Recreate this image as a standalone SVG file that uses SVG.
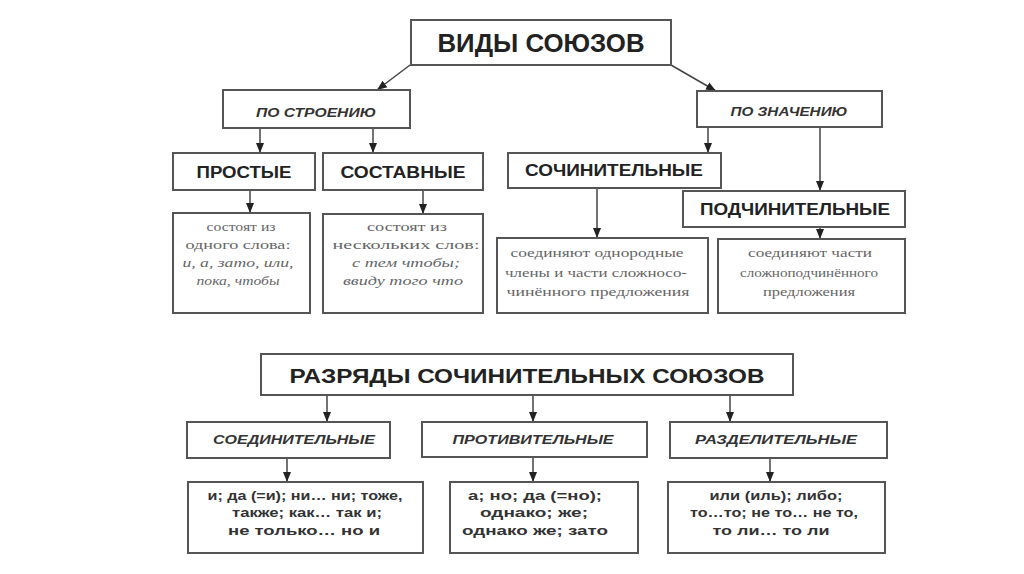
<svg xmlns="http://www.w3.org/2000/svg" width="1024" height="574" viewBox="0 0 1024 574">
<defs>
<marker id="ah" markerUnits="userSpaceOnUse" markerWidth="10" markerHeight="10" viewBox="0 0 10 10" refX="10" refY="5" orient="auto">
<path d="M0,1 L10,5 L0,9 Z" fill="#222"/>
</marker>
<style>
.box{fill:#fff;stroke:#555;stroke-width:2}
.h{font-family:"Liberation Sans",Arial,sans-serif;font-weight:bold;fill:#222;text-anchor:middle}
.hi{font-family:"Liberation Sans",Arial,sans-serif;font-weight:bold;font-style:italic;fill:#333;text-anchor:middle;font-size:12px}
.d{font-family:"Liberation Serif","Times New Roman",serif;fill:#666;text-anchor:middle;font-size:12.5px}
.di{font-style:italic}
.l{font-family:"Liberation Sans",Arial,sans-serif;font-weight:bold;fill:#333;text-anchor:middle;font-size:13px}
.c{fill:none;stroke:#444;stroke-width:1.5;marker-end:url(#ah)}
</style>
</defs>
<rect width="1024" height="574" fill="#fff"/>
<g id="connectors">
<line class="c" x1="410" y1="65" x2="377" y2="90"/>
<line class="c" x1="671" y1="65" x2="716" y2="91"/>
<line class="c" x1="260" y1="128" x2="260" y2="153"/>
<line class="c" x1="373" y1="128" x2="373" y2="153"/>
<line class="c" x1="708" y1="127" x2="708" y2="153"/>
<line class="c" x1="820" y1="127" x2="820" y2="191"/>
<line class="c" x1="250" y1="190" x2="250" y2="213"/>
<line class="c" x1="423" y1="190" x2="423" y2="214"/>
<line class="c" x1="597" y1="188" x2="597" y2="238"/>
<line class="c" x1="820" y1="227" x2="820" y2="239"/>
<line class="c" x1="327" y1="395" x2="327" y2="422"/>
<line class="c" x1="533" y1="395" x2="533" y2="422"/>
<line class="c" x1="730" y1="395" x2="730" y2="422"/>
<line class="c" x1="287" y1="458" x2="287" y2="482"/>
<line class="c" x1="533" y1="457" x2="533" y2="482"/>
<line class="c" x1="770" y1="458" x2="770" y2="482"/>
</g>
<g id="vidy">
<rect class="box" x="411" y="20" width="260" height="45"/>
<text class="h" x="541" y="52" font-size="25" textLength="207" lengthAdjust="spacingAndGlyphs">ВИДЫ СОЮЗОВ</text>
</g>
<g id="po-stroeniyu">
<rect class="box" x="223" y="90" width="187" height="38"/>
<text class="hi" x="316" y="117" font-size="11" textLength="120" lengthAdjust="spacingAndGlyphs">ПО СТРОЕНИЮ</text>
</g>
<g id="po-znacheniyu">
<rect class="box" x="697" y="91" width="185" height="36"/>
<text class="hi" x="789" y="116" font-size="11" textLength="117" lengthAdjust="spacingAndGlyphs">ПО ЗНАЧЕНИЮ</text>
</g>
<g id="prostye">
<rect class="box" x="173" y="153" width="142" height="37"/>
<text class="h" x="244" y="178" font-size="16" textLength="95" lengthAdjust="spacingAndGlyphs">ПРОСТЫЕ</text>
</g>
<g id="sostavnye">
<rect class="box" x="323" y="153" width="160" height="37"/>
<text class="h" x="403" y="178" font-size="16" textLength="125" lengthAdjust="spacingAndGlyphs">СОСТАВНЫЕ</text>
</g>
<g id="sochinitelnye">
<rect class="box" x="508" y="153" width="213" height="35"/>
<text class="h" x="614" y="176" font-size="16" textLength="178" lengthAdjust="spacingAndGlyphs">СОЧИНИТЕЛЬНЫЕ</text>
</g>
<g id="podchinitelnye">
<rect class="box" x="683" y="191" width="222" height="36"/>
<text class="h" x="795" y="215" font-size="16" textLength="190" lengthAdjust="spacingAndGlyphs">ПОДЧИНИТЕЛЬНЫЕ</text>
</g>
<g id="desc-prostye">
<rect class="box" x="173" y="213" width="137" height="100"/>
<text class="d" x="241" y="231" textLength="69" lengthAdjust="spacingAndGlyphs">состоят из</text>
<text class="d" x="238" y="249" textLength="105" lengthAdjust="spacingAndGlyphs">одного слова:</text>
<text class="d di" x="238" y="267" textLength="111" lengthAdjust="spacingAndGlyphs">и, а, зато, или,</text>
<text class="d di" x="238" y="285" textLength="83" lengthAdjust="spacingAndGlyphs">пока, чтобы</text>
</g>
<g id="desc-sostavnye">
<rect class="box" x="323" y="214" width="160" height="99"/>
<text class="d" x="407" y="231" textLength="80" lengthAdjust="spacingAndGlyphs">состоят из</text>
<text class="d" x="406" y="249" textLength="147" lengthAdjust="spacingAndGlyphs">нескольких слов:</text>
<text class="d di" x="406" y="267" textLength="108" lengthAdjust="spacingAndGlyphs">с тем чтобы;</text>
<text class="d di" x="403" y="285" textLength="120" lengthAdjust="spacingAndGlyphs">ввиду того что</text>
</g>
<g id="desc-sochin">
<rect class="box" x="497" y="238" width="211" height="75"/>
<text class="d" x="597" y="257" textLength="173" lengthAdjust="spacingAndGlyphs">соединяют однородные</text>
<text class="d" x="596" y="277" textLength="182" lengthAdjust="spacingAndGlyphs">члены и части сложносо-</text>
<text class="d" x="598" y="296" textLength="183" lengthAdjust="spacingAndGlyphs">чинённого предложения</text>
</g>
<g id="desc-podchin">
<rect class="box" x="718" y="239" width="187" height="74"/>
<text class="d" x="810" y="257" textLength="124" lengthAdjust="spacingAndGlyphs">соединяют части</text>
<text class="d" x="809" y="277" textLength="138" lengthAdjust="spacingAndGlyphs">сложноподчинённого</text>
<text class="d" x="809" y="296" textLength="92" lengthAdjust="spacingAndGlyphs">предложения</text>
</g>
<g id="razryady">
<rect class="box" x="261" y="354" width="532" height="41"/>
<text class="h" x="527" y="383" font-size="21" textLength="475" lengthAdjust="spacingAndGlyphs">РАЗРЯДЫ СОЧИНИТЕЛЬНЫХ СОЮЗОВ</text>
</g>
<g id="soedinitelnye">
<rect class="box" x="187" y="422" width="203" height="36"/>
<text class="hi" x="294" y="444" textLength="162" lengthAdjust="spacingAndGlyphs">СОЕДИНИТЕЛЬНЫЕ</text>
</g>
<g id="protivitelnye">
<rect class="box" x="422" y="422" width="225" height="35"/>
<text class="hi" x="533" y="444" textLength="161" lengthAdjust="spacingAndGlyphs">ПРОТИВИТЕЛЬНЫЕ</text>
</g>
<g id="razdelitelnye">
<rect class="box" x="670" y="422" width="217" height="36"/>
<text class="hi" x="776" y="444" textLength="162" lengthAdjust="spacingAndGlyphs">РАЗДЕЛИТЕЛЬНЫЕ</text>
</g>
<g id="list-soed">
<rect class="box" x="188" y="482" width="235" height="71"/>
<text class="l" x="305" y="500" textLength="195" lengthAdjust="spacingAndGlyphs">и; да (=и); ни… ни; тоже,</text>
<text class="l" x="307" y="517" textLength="150" lengthAdjust="spacingAndGlyphs">также; как… так и;</text>
<text class="l" x="304" y="535" textLength="152" lengthAdjust="spacingAndGlyphs">не только… но и</text>
</g>
<g id="list-prot">
<rect class="box" x="450" y="482" width="188" height="71"/>
<text class="l" x="535" y="500" textLength="134" lengthAdjust="spacingAndGlyphs">а; но; да (=но);</text>
<text class="l" x="534" y="517" textLength="108" lengthAdjust="spacingAndGlyphs">однако; же;</text>
<text class="l" x="535" y="535" textLength="146" lengthAdjust="spacingAndGlyphs">однако же; зато</text>
</g>
<g id="list-razd">
<rect class="box" x="668" y="482" width="217" height="71"/>
<text class="l" x="776" y="500" textLength="133" lengthAdjust="spacingAndGlyphs">или (иль); либо;</text>
<text class="l" x="774" y="517" textLength="168" lengthAdjust="spacingAndGlyphs">то…то; не то… не то,</text>
<text class="l" x="771" y="535" textLength="117" lengthAdjust="spacingAndGlyphs">то ли… то ли</text>
</g>
</svg>
